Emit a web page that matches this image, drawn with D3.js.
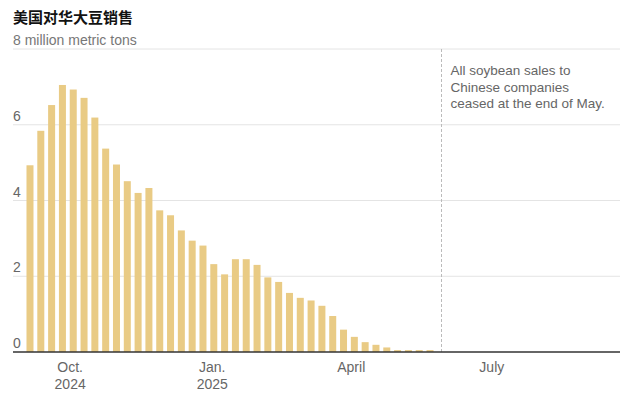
<!DOCTYPE html>
<meta charset="utf-8">
<html>
<script src="https://d3js.org/d3.v7.min.js"></script>
<style>
  body { margin: 0; background: #fff; }
  text { font-family: "Liberation Sans", Arial, sans-serif; }
</style>
<body>
<div id="my_dataviz"></div>
<script>

    // weekly US soybean sales to China, million metric tons
    const weeks = [
      "2024-09-05","2024-09-12","2024-09-19","2024-09-26","2024-10-03","2024-10-10",
      "2024-10-17","2024-10-24","2024-10-31","2024-11-07","2024-11-14","2024-11-21",
      "2024-11-28","2024-12-05","2024-12-12","2024-12-19","2024-12-26","2025-01-02",
      "2025-01-09","2025-01-16","2025-01-23","2025-01-30","2025-02-06","2025-02-13",
      "2025-02-20","2025-02-27","2025-03-06","2025-03-13","2025-03-20","2025-03-27",
      "2025-04-03","2025-04-10","2025-04-17","2025-04-24","2025-05-01","2025-05-08",
      "2025-05-15","2025-05-22"]
    const sales = [
      4.93, 5.84, 6.52, 7.05, 6.93, 6.71,
      6.19, 5.37, 4.95, 4.51, 4.20, 4.33,
      3.74, 3.61, 3.21, 2.94, 2.81, 2.32,
      2.05, 2.45, 2.45, 2.30, 1.97, 1.85,
      1.56, 1.43, 1.36, 1.22, 0.95, 0.59,
      0.40, 0.26, 0.19, 0.12, 0.05, 0.05,
      0.05, 0.05]
    const yTicks = [0, 2, 4, 6]
    const xTickDates = ["2024-10-01", "2025-01-01", "2025-04-01", "2025-07-01"]
    const xTickLabels = [["Oct.", "2024"], ["Jan.", "2025"], ["April"], ["July"]]
    const cutoffDate = "2025-05-29"
    const note = ["All soybean sales to", "Chinese companies", "ceased at the end of May."]

    const width = 640, height = 395
    const mLeft = 13, mRight = 620, mTop = 49, mBottom = 352

    const parse = d3.utcParse("%Y-%m-%d")

    const svg = d3.select("#my_dataviz")
      .append("svg")
        .attr("width", width)
        .attr("height", height)

    const x = d3.scaleUtc()
      .domain([parse("2024-08-25"), parse("2025-09-22")])
      .range([mLeft, mRight])

    const y = d3.scaleLinear()
      .domain([0, 8])
      .range([mBottom, mTop])

    // title and unit
    svg.append("text")
      .attr("x", mLeft).attr("y", 23)
      .style("font-family", "'Noto Sans CJK SC', sans-serif")
      .style("font-size", "15px")
      .style("font-weight", "bold")
      .attr("fill", "#121212")
      .text("美国对华大豆销售")

    svg.append("text")
      .attr("x", mLeft).attr("y", 45)
      .style("font-size", "14px")
      .attr("fill", "#777")
      .text("8 million metric tons")

    // gridlines
    svg.selectAll("line.grid")
      .data(yTicks.concat([8]).filter(d => d > 0))
      .join("line")
        .attr("class", "grid")
        .attr("x1", mLeft).attr("x2", mRight)
        .attr("y1", d => y(d)).attr("y2", d => y(d))
        .attr("stroke", "#e4e4e4")
        .attr("stroke-width", 1)

    svg.selectAll("text.ylab")
      .data(yTicks)
      .join("text")
        .attr("class", "ylab")
        .attr("x", mLeft)
        .attr("y", d => y(d) - 4)
        .style("font-size", "14px")
        .attr("fill", "#666")
        .text(d => d)

    // bars
    const barW = 7
    svg.selectAll("rect.bar")
      .data(weeks.map((w, i) => ({date: parse(w), value: sales[i]})))
      .join("rect")
        .attr("class", "bar")
        .attr("x", d => x(d.date) - barW / 2)
        .attr("width", barW)
        .attr("y", d => y(d.value))
        .attr("height", d => mBottom - y(d.value))
        .attr("fill", "#e9cb85")

    // cutoff line
    const cx = Math.round(x(parse(cutoffDate))) + 0.5
    svg.append("line")
      .attr("x1", cx).attr("x2", cx)
      .attr("y1", mTop).attr("y2", mBottom)
      .attr("stroke", "#bbb")
      .attr("stroke-dasharray", "3,2")

    svg.append("text")
      .attr("x", cx + 9)
      .attr("y", 75)
      .style("font-size", "13.5px")
      .attr("fill", "#666")
      .selectAll("tspan")
      .data(note)
      .join("tspan")
        .attr("x", cx + 9)
        .attr("dy", (d, i) => i ? 16.5 : 0)
        .text(d => d)

    // baseline
    svg.append("line")
      .attr("x1", mLeft).attr("x2", mRight)
      .attr("y1", mBottom).attr("y2", mBottom)
      .attr("stroke", "#333")
      .attr("stroke-width", 1.5)

    // x ticks
    const xt = svg.selectAll("text.xlab")
      .data(xTickDates.map((d, i) => ({date: parse(d), lines: xTickLabels[i]})))
      .join("text")
        .attr("class", "xlab")
        .attr("text-anchor", "middle")
        .attr("y", 372)
        .style("font-size", "14px")
        .attr("fill", "#666")
    xt.selectAll("tspan")
      .data(d => d.lines.map(l => ({l, x: x(d.date)})))
      .join("tspan")
        .attr("x", d => d.x)
        .attr("dy", (d, i) => i ? 16.5 : 0)
        .text(d => d.l)

</script>
</body>
</html>
